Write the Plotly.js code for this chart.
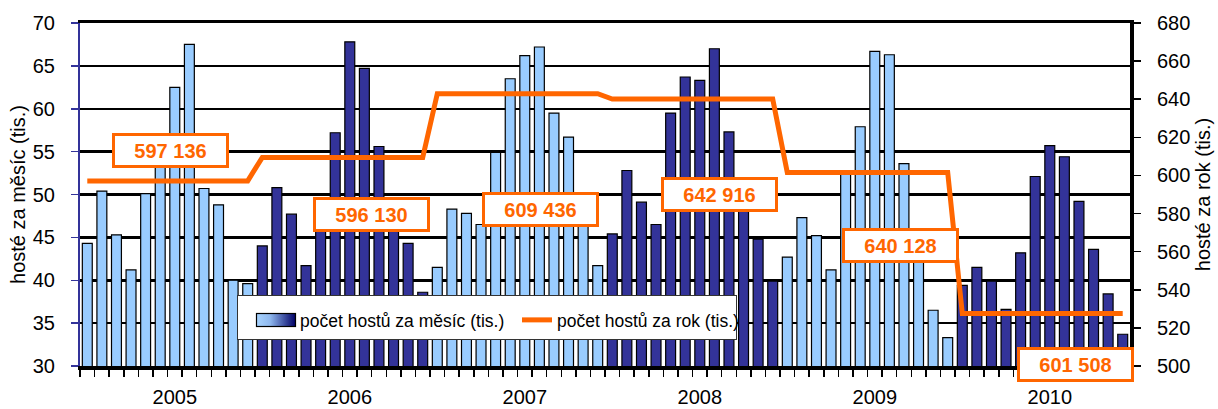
<!DOCTYPE html>
<html>
<head>
<meta charset="utf-8">
<script src="https://cdn.plot.ly/plotly-3.0.1.min.js"></script>
<style>html,body{margin:0;padding:0;background:#fff;}#chart{width:1218px;height:409px;}</style>
</head>
<body>
<div id="chart"></div>
<script>
// ---- data ----
var years = ['2005', '2006', '2007', '2008', '2009', '2010'];
var m2005 = [44.3, 50.4, 45.3, 41.2, 50.1, 56.7, 62.5, 67.5, 50.7, 48.8, 40.0, 39.6];
var m2006 = [44.0, 50.8, 47.7, 41.7, 48.2, 57.2, 67.8, 64.7, 55.6, 48.8, 44.3, 38.6];
var m2007 = [41.5, 48.3, 47.8, 46.5, 54.9, 63.5, 66.2, 67.2, 59.5, 56.7, 49.1, 41.7];
var m2008 = [45.4, 52.8, 49.1, 46.5, 59.5, 63.7, 63.3, 67.0, 57.3, 50.8, 44.8, 39.9];
var m2009 = [42.7, 47.3, 45.2, 41.2, 52.6, 57.9, 66.7, 66.3, 53.6, 45.0, 36.5, 33.3];
var m2010 = [39.4, 41.5, 39.9, 36.6, 43.2, 52.1, 55.7, 54.4, 49.2, 43.6, 38.4, 33.7];
var annualTotals = [597.136, 609.436, 642.916, 640.128, 601.508, 527.6];
var boxLabels = ['597 136', '596 130', '609 436', '642 916', '640 128', '601 508'];
var seriesMonth = 'počet hostů za měsíc (tis.)';
var seriesYear = 'počet hostů za rok (tis.)';

// ---- build ----
var monthly = [m2005, m2006, m2007, m2008, m2009, m2010];
var xs = [], ys = [], cols = [], lineY = [];
monthly.forEach(function (arr, yi) {
  arr.forEach(function (v, mi) {
    xs.push(yi * 12 + mi);
    ys.push(v);
    cols.push(yi % 2 === 0 ? '#99CCFF' : '#333399');
    lineY.push(annualTotals[yi]);
  });
});
var yearTickPos = years.map(function (y, i) { return i * 12 + 6; });
var minorTicks = [];
for (var k = 0; k <= xs.length; k++) minorTicks.push(k - 0.5);

var FONT = 'Arial, "Liberation Sans", sans-serif';

var traces = [
  { type: 'bar', x: xs, y: ys, width: 0.68, showlegend: false,
    marker: { color: cols, line: { color: '#000', width: 1.2 } }, hoverinfo: 'x+y' },
  { type: 'bar', x: [null], y: [null], name: seriesMonth, showlegend: true,
    marker: { color: 'rgba(0,0,0,0)', line: { width: 0 } } },
  { type: 'scatter', mode: 'lines', x: xs, y: lineY, yaxis: 'y2', name: seriesYear,
    line: { color: '#FF6600', width: 5 } }
];

// label box positions (layout only)
var boxPos = [[5.72, 55.1], [19.52, 47.7], [31.08, 48.25], [43.32, 50.0], [55.76, 44.1], [67.76, 30.23]];
var annotations = boxLabels.map(function (t, i) {
  return { x: boxPos[i][0], y: boxPos[i][1], xref: 'x', yref: 'y', text: '<b>' + t + '</b>',
    showarrow: false, bgcolor: '#fff', bordercolor: '#FF6600', borderwidth: 3, borderpad: 1,
    width: 109, height: 27, font: { family: FONT, size: 20, color: '#FF6600' } };
});

var svg = '<svg xmlns="http://www.w3.org/2000/svg" width="500" height="45" viewBox="0 0 500 45" preserveAspectRatio="none">' +
  '<defs><linearGradient id="g" x1="0" y1="0" x2="1" y2="0"><stop offset="0" stop-color="#A8D4FF"/><stop offset="0.35" stop-color="#8FB8EE"/><stop offset="1" stop-color="#000066"/></linearGradient></defs>' +
  '<rect x="0.5" y="0.5" width="499" height="44" fill="#fff" stroke="#333" stroke-width="1"/>' +
  '<rect x="19.5" y="18.5" width="39" height="13" fill="url(#g)" stroke="#000" stroke-width="1.2"/></svg>';

var PW = 1050, PH = 343;
var layout = {
  width: 1218, height: 409,
  margin: { l: 80, r: 88, t: 23, b: 43, pad: 0 },
  paper_bgcolor: '#fff', plot_bgcolor: '#fff',
  font: { family: FONT, size: 20, color: '#000' },
  bargap: 0.3,
  showlegend: true,
  legend: { orientation: 'h', x: (260 - 80) / PW, xanchor: 'left', y: (366 - 320) / PH, yanchor: 'middle',
    bgcolor: 'rgba(0,0,0,0)', borderwidth: 0, font: { family: FONT, size: 17.5, color: '#000' },
    entrywidth: 212, traceorder: 'normal' },
  xaxis: { range: [-0.5, xs.length - 0.5], tickmode: 'array', tickvals: yearTickPos, ticktext: years,
    ticks: '', showgrid: false, zeroline: false, showline: true, linecolor: '#000', linewidth: 3.5,
    mirror: true, ticklabelstandoff: 10, tickfont: { size: 20 },
    minor: { tickmode: 'array', tickvals: minorTicks, ticks: 'outside', ticklen: 7, tickcolor: '#000', tickwidth: 1.5, showgrid: false } },
  yaxis: { range: [30, 70], dtick: 5, tick0: 30, showgrid: true, gridcolor: '#000', gridwidth: 2.5,
    zeroline: false, showline: true, linecolor: '#333399', linewidth: 2, ticks: 'outside', ticklen: 7,
    tickcolor: '#333399', tickwidth: 1.5, ticklabelstandoff: 12, tickfont: { size: 20 },
    title: { text: 'hosté za měsíc (tis.)', font: { size: 20 }, standoff: 2 } },
  yaxis2: { range: [500, 680], dtick: 20, tick0: 500, overlaying: 'y', side: 'right', showgrid: false,
    zeroline: false, showline: true, linecolor: '#000', linewidth: 4, ticks: 'outside', ticklen: 7,
    tickcolor: '#000', tickwidth: 1.5, ticklabelstandoff: 12, tickfont: { size: 20 },
    title: { text: 'hosté za rok (tis.)', font: { size: 20 }, standoff: 8 } },
  images: [{ source: 'data:image/svg+xml;charset=utf-8,' + encodeURIComponent(svg), xref: 'paper', yref: 'paper',
    x: (237 - 80) / PW, y: (366 - 295) / PH, sizex: 500 / PW, sizey: 45 / PH, sizing: 'stretch',
    xanchor: 'left', yanchor: 'top', layer: 'above' }],
  annotations: annotations
};

Plotly.newPlot('chart', traces, layout, { staticPlot: true, displayModeBar: false });
</script>
</body>
</html>
